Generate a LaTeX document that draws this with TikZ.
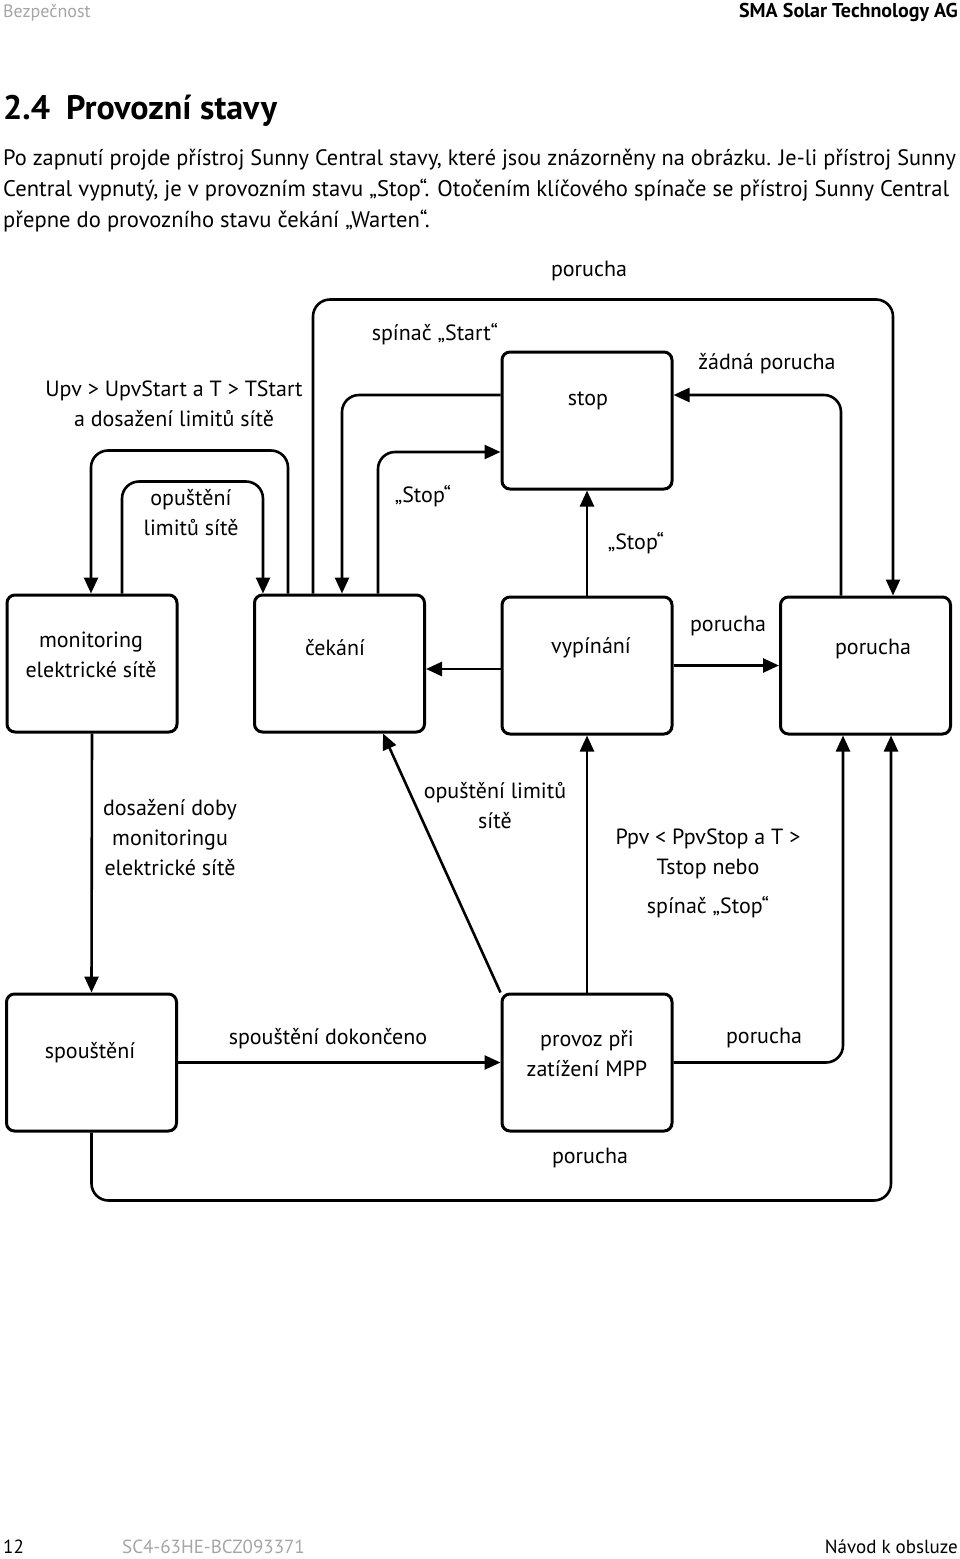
\documentclass[tikz,border=0pt]{standalone}
\usepackage{fontspec}
\setmainfont{PT Sans}
\usetikzlibrary{arrows.meta,calc}

\begin{document}
\begin{tikzpicture}[x=1pt,y=-1pt,
 box/.style={draw,line width=3pt,rounded corners=8pt,minimum width=170pt,minimum height=137pt},
 lbl/.style={align=center,inner sep=0pt,font=\fontsize{22}{30}\selectfont},
 txt/.style={anchor=mid west,inner sep=0pt,font=\fontsize{22.6}{26}\selectfont},
 conn/.style={line width=2.6pt,rounded corners=17pt},
 arr/.style={conn,-{Triangle[length=16pt,width=14pt]}}]
 \fill[white] (0,0) rectangle (960,1559);
 \useasboundingbox (0,0) rectangle (960,1559);

 \node[txt,text=gray!70,font=\fontsize{18}{20}\selectfont] (hdl) at (3,15) {Bezpečnost};
 \node[txt,anchor=mid east,font=\bfseries\fontsize{20}{22}\selectfont] (hdr) at (958,15) {SMA Solar Technology AG};
 \node[txt,font=\bfseries\fontsize{34}{38}\selectfont] (title) at (3,117) {2.4\hspace{16pt}Provozní stavy};
 \node[txt,font=\fontsize{22.3}{26}\selectfont] (par1) at (3,163) {Po zapnutí projde přístroj Sunny Central stavy, které jsou znázorněny na obrázku. Je-li přístroj Sunny};
 \node[txt] (par2) at (3,194) {Central vypnutý, je v provozním stavu „Stop“. Otočením klíčového spínače se přístroj Sunny Central};
 \node[txt] (par3) at (3,225) {přepne do provozního stavu čekání „Warten“.};

 \node[box] (mon) at (92,663.5) {};
 \node[box] (cek) at (339.5,663.5) {};
 \node[box] (vyp) at (587,665.5) {};
 \node[box] (por) at (865.5,665.5) {};
 \node[box] (stop) at (587,420.5) {};
 \node[box] (spou) at (91.5,1062.5) {};
 \node[box] (mpp) at (587,1062.5) {};

 \node[lbl] (monT) at (91,655) {monitoring\\elektrické sítě};
 \node[lbl] (cekT) at (335,648) {čekání};
 \node[lbl] (vypT) at (591,648) {vypínání};
 \node[lbl] (porT) at (873,649) {porucha};
 \node[lbl] (stopT) at (588,401) {stop};
 \node[lbl] (spouT) at (90,1053) {spouštění};
 \node[lbl] (mppT) at (587,1054) {provoz při\\zatížení MPP};

 \draw[arr] ($(cek.north)+(-51.5,0)$) |- ($(mon.north)+(-1,-143)$) -- ($(mon.north)+(-1,0)$);
 \draw[arr] ($(mon.north)+(30,0)$) |- ($(cek.north)+(-76.5,-112)$) -- ($(cek.north)+(-76.5,0)$);
 \draw[arr] ($(cek.north)+(-26.5,0)$) |- ($(por.north)+(27.5,-296)$) -- ($(por.north)+(27.5,0)$);
 \draw[arr] ($(stop.west)+(0,-25.5)$) -| ($(cek.north)+(2.5,0)$);
 \draw[arr] ($(cek.north)+(38.5,0)$) |- ($(stop.west)+(0,31.5)$);
 \draw[arr] ($(por.north)+(-24.5,0)$) |- ($(stop.east)+(0,-25.5)$);
 \draw[arr] (vyp.north) -- (stop.south);
 \draw[arr] ($(vyp.west)+(0,3.5)$) -- ($(cek.east)+(0,5.5)$);
 \draw[arr] (vyp.east) -- (por.west);
 \draw[arr] (mon.south) -- (spou.north);
 \draw[arr] (spou.east) -- (mpp.west);
 \draw[arr] (mpp.north west) -- ($(cek.south)+(43.5,0)$);
 \draw[arr] (mpp.north) -- (vyp.south);
 \draw[arr] (mpp.east) -| ($(por.south)+(-22.5,0)$);
 \draw[arr] (spou.south) |- ($(por.south)+(25.5,465)$) -- ($(por.south)+(25.5,0)$);

 \node[lbl] (l1) at (589,271) {porucha};
 \node[lbl] (l2) at (435,334) {spínač „Start“};
 \node[lbl] (l3) at (174,404) {Upv > UpvStart a T > TStart\\a dosažení limitů sítě};
 \node[lbl] (l4) at (767,364) {žádná porucha};
 \node[lbl] (l5) at (191,513) {opuštění\\limitů sítě};
 \node[lbl] (l6) at (423,496) {„Stop“};
 \node[lbl] (l7) at (636,543) {„Stop“};
 \node[lbl] (l8) at (728,626) {porucha};
 \node[lbl] (l9) at (170,838) {dosažení doby\\monitoringu\\elektrické sítě};
 \node[lbl] (l10) at (495,806) {opuštění limitů\\sítě};
 \node[lbl] (l11) at (708,873) {Ppv < PpvStop a T >\\Tstop nebo\\[9pt]spínač „Stop“};
 \node[lbl] (l12) at (328,1039) {spouštění dokončeno};
 \node[lbl] (l13) at (764,1038) {porucha};
 \node[lbl] (l14) at (590,1158) {porucha};

 \node[txt,font=\fontsize{19}{22}\selectfont] (pg) at (3,1551) {12};
 \node[txt,text=gray!70,font=\fontsize{19}{22}\selectfont] (doc) at (122,1551) {SC4-63HE-BCZ093371};
 \node[txt,anchor=mid east,font=\fontsize{19}{22}\selectfont] (man) at (958,1551) {Návod k obsluze};
\end{tikzpicture}
\end{document}
